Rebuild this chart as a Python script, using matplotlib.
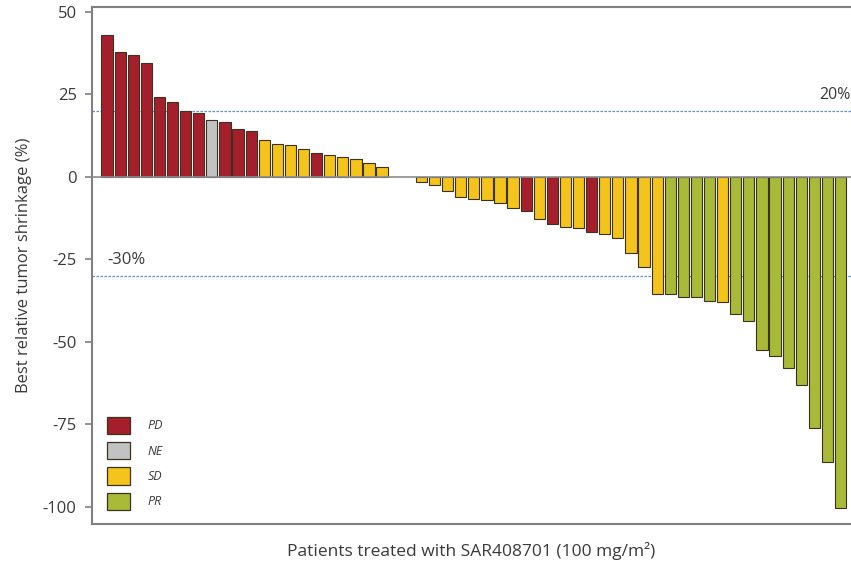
import matplotlib
matplotlib.use("Agg")
import matplotlib.pyplot as plt
from matplotlib.patches import Patch
import numpy as np

# best relative change per patient, sorted waterfall order
shrinkage = [43.0, 38.0, 37.0, 34.6, 24.3, 22.7, 20.0, 19.4, 17.4, 16.6, 14.6, 13.9,
             11.3, 10.0, 9.6, 8.6, 7.1, 6.7, 6.1, 5.4, 4.3, 3.0, 0.0, 0.0,
             -1.6, -2.6, -4.2, -6.0, -6.6, -7.0, -8.0, -9.3, -10.3, -12.8, -14.3, -15.1,
             -15.6, -16.6, -17.2, -18.6, -23.2, -27.3, -35.5, -35.5, -36.5, -36.5, -37.6, -37.8,
             -41.6, -43.8, -52.5, -54.2, -57.8, -63.2, -76.2, -86.5, -100.4]
response = ["PD", "PD", "PD", "PD", "PD", "PD", "PD", "PD", "NE", "PD", "PD", "PD",
            "SD", "SD", "SD", "SD", "PD", "SD", "SD", "SD", "SD", "SD", "SD", "SD",
            "SD", "SD", "SD", "SD", "SD", "SD", "SD", "SD", "PD", "SD", "PD", "SD",
            "SD", "PD", "SD", "SD", "SD", "SD", "SD", "PR", "PR", "PR", "PR", "SD",
            "PR", "PR", "PR", "PR", "PR", "PR", "PR", "PR", "PR"]
categories = ["PD", "NE", "SD", "PR"]
cat_colors = {"PD": "#A41F2B", "NE": "#C2C2C2", "SD": "#F4C31C", "PR": "#A9BA38"}
thresholds = [20, -30]
threshold_labels = ["20%", "-30%"]

plt.rcParams['font.family'] = ['Open Sans', 'DejaVu Sans']
plt.rcParams['axes.unicode_minus'] = False
text_col = "#3a3a3a"

fig = plt.figure(figsize=(8.51, 5.71), dpi=100)
ax = fig.add_axes([92 / 851, 1 - 524 / 571, 1 - 92 / 851, 517 / 571])

x = np.arange(len(shrinkage))
vals = np.array(shrinkage)
# zero-valued bars carry no visible outline in the original
edges = ["#3b3322" if v != 0 else "none" for v in vals]
ax.bar(x, vals, width=0.86, color=[cat_colors[r] for r in response],
       edgecolor=edges, linewidth=0.8, zorder=3)

ax.axhline(0, color="#8c8c8c", lw=1.2, zorder=4)
for t in thresholds:
    ax.axhline(t, color="#5d8fcf", lw=0.9, ls=(0, (2, 1.2)), zorder=1)

ax.text(56.75, 22.3, threshold_labels[0], ha="right", va="bottom", fontsize=11.5, color=text_col)
ax.text(0, -27.5, threshold_labels[1], ha="left", va="bottom", fontsize=12, color=text_col)

ax.set_xlim(-1.15, 56.8)
ax.set_ylim(-105.2, 51.5)
ax.set_yticks([50, 25, 0, -25, -50, -75, -100])
ax.set_xticks([])
ax.tick_params(axis="y", direction="out", length=5, width=1.2, color="#808080",
               labelsize=12, labelcolor=text_col, pad=6)
for s in ["left", "top", "bottom"]:
    ax.spines[s].set_color("#808080")
    ax.spines[s].set_linewidth(1.5)
ax.spines["right"].set_visible(False)

ax.set_ylabel("Best relative tumor shrinkage (%)", fontsize=12, color=text_col, labelpad=8)
ax.set_xlabel("Patients treated with SAR408701 (100 mg/m²)", fontsize=12.5,
              color=text_col, labelpad=13)

handles = [Patch(facecolor=cat_colors[c], edgecolor="#3b3322", linewidth=0.9, label=c)
           for c in categories]
leg = ax.legend(handles=handles, loc="lower left", bbox_to_anchor=(0.02, 0.027),
                frameon=False, borderpad=0, borderaxespad=0, handlelength=1.85,
                handleheight=1.75, labelspacing=0.65, handletextpad=1.4,
                prop={"style": "italic", "size": 9})
for t in leg.get_texts():
    t.set_color(text_col)

fig.savefig("out.png", dpi=100)
